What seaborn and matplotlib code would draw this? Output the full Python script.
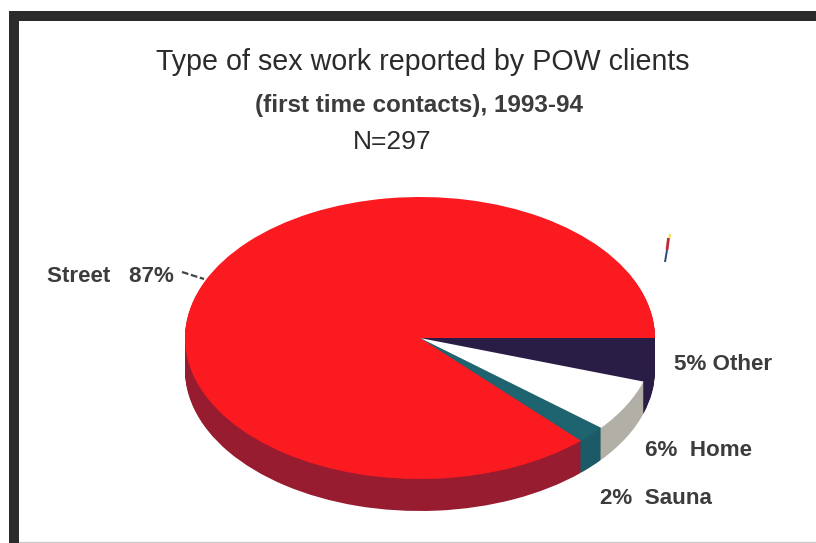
import matplotlib
matplotlib.use("Agg")
import matplotlib.pyplot as plt
from matplotlib.lines import Line2D
import seaborn as sns

categories = ["Other", "Home", "Sauna", "Street"]
shares = [5, 6, 2, 87]
top_colors = ["#2a1d45", "#ffffff", "#1d6470", "#fb1a20"]
side_colors = ["#2a1d45", "#b2b0a6", "#1d5a68", "#981c30"]
title_lines = ["Type of sex work reported by POW clients",
               "(first time contacts), 1993-94",
               "N=297"]
label_texts = ["5% Other", "6%  Home", "2%  Sauna", "Street   87%"]

sns.set_theme(style="white")
plt.rcParams["font.family"] = ["Liberation Sans", "DejaVu Sans"]

W, H = 816, 543
CX, CY, RX, RY, DEPTH = 420, 338, 235, 141, 32
INK = "#2b2b2b"

fig = plt.figure(figsize=(W / 100, H / 100), dpi=100, facecolor="white")
ax = fig.add_axes([0, 0, 1, 1])


def draw_pie(colors, dy):
    ax.pie(shares, colors=colors, startangle=0, counterclock=False,
           center=(0, dy), radius=1, frame=True,
           wedgeprops=dict(linewidth=0, antialiased=True))


for step in range(DEPTH, 0, -1):
    draw_pie(side_colors, -step / RY)
draw_pie(top_colors, 0)

ax.set_aspect("auto")
ax.set_xlim(-CX / RX, (W - CX) / RX)
ax.set_ylim((CY - H) / RY, CY / RY)
ax.set_xticks([])
ax.set_yticks([])
for spine in ax.spines.values():
    spine.set_visible(False)


def px(x, y):
    return x / W, 1 - y / H


fig.text(*px(422.5, 62), title_lines[0], fontsize=20.6, color=INK, ha="center", va="center")
fig.text(*px(419, 105), title_lines[1], fontsize=17.5, color=INK, ha="center", va="center",
         fontweight="bold", alpha=0.92)
fig.text(*px(392.5, 142), title_lines[2], fontsize=19, color=INK, ha="center", va="center")

positions = [(674, 364), (645, 450), (600, 498), (47, 277)]
for (x, y), text in zip(positions, label_texts):
    fig.text(*px(x, y), text, fontsize=16.1, color=INK, ha="left", va="center",
             fontweight="bold", alpha=0.92)


def seg(x0, y0, x1, y1, **kw):
    fig.add_artist(Line2D([x0 / W, x1 / W], [1 - y0 / H, 1 - y1 / H], **kw))


# picture frame (thick on the left and top, hairline at the bottom)
seg(14, 11, 14, 543, color=INK, lw=7.2, solid_capstyle="butt")
seg(9, 16, 816, 16, color=INK, lw=7.2, solid_capstyle="butt")
seg(19, 541.5, 816, 541.5, color="#c8c8c8", lw=0.9)

# leader line for the Street label and the small scanned speck
seg(182, 272, 204, 279, color="#444444", lw=1.6, ls=(0, (3, 1.2)))
seg(668.5, 238, 667, 250, color="#c02a3a", lw=2.0, solid_capstyle="butt")
seg(667, 250, 665, 262, color="#2c4a7a", lw=1.4, solid_capstyle="butt")
seg(670, 234, 669.5, 238, color="#f5e050", lw=1.6, solid_capstyle="butt")

fig.savefig("out.png", dpi=100, facecolor="white")
